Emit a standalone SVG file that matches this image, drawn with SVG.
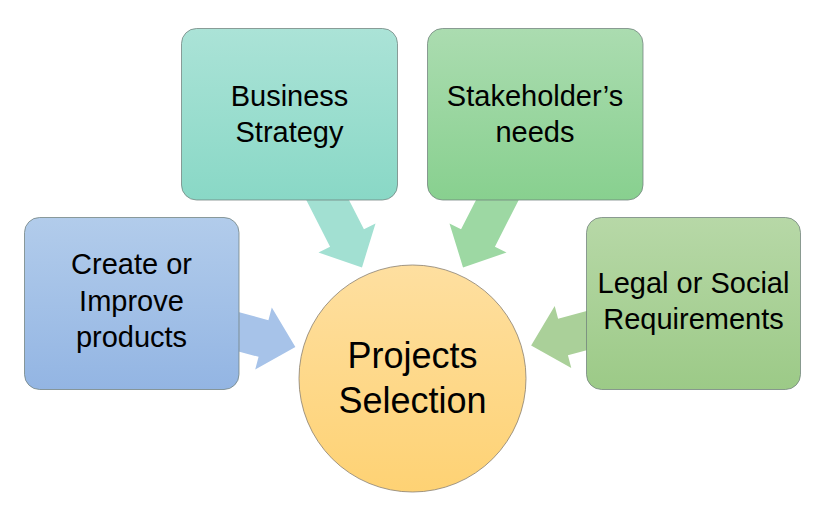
<svg xmlns="http://www.w3.org/2000/svg" width="833" height="508" viewBox="0 0 833 508">
  <defs>
    <linearGradient id="gTeal" x1="0" y1="0" x2="0" y2="1">
      <stop offset="0" stop-color="#abe3d7"/>
      <stop offset="1" stop-color="#89d8c6"/>
    </linearGradient>
    <linearGradient id="gGreen" x1="0" y1="0" x2="0" y2="1">
      <stop offset="0" stop-color="#abdcb0"/>
      <stop offset="1" stop-color="#88d08f"/>
    </linearGradient>
    <linearGradient id="gBlue" x1="0" y1="0" x2="0" y2="1">
      <stop offset="0" stop-color="#b2cceb"/>
      <stop offset="1" stop-color="#93b5e3"/>
    </linearGradient>
    <linearGradient id="gOlive" x1="0" y1="0" x2="0" y2="1">
      <stop offset="0" stop-color="#b7d8a7"/>
      <stop offset="1" stop-color="#9cca87"/>
    </linearGradient>
    <linearGradient id="gOrange" x1="0" y1="0" x2="0" y2="1">
      <stop offset="0" stop-color="#fedfa0"/>
      <stop offset="1" stop-color="#fed274"/>
    </linearGradient>
    <polygon id="arrow" points="-60,-19 0,-19 0,-32 33,0 0,32 0,19 -60,19"/>
  </defs>
  <style>
    .box { stroke: #6f7f7b; stroke-opacity: 0.75; stroke-width: 1; }
    .lbl { font-family: "Liberation Sans", Arial, sans-serif; font-size: 29px; fill: #000; text-anchor: middle; }
    .big { font-family: "Liberation Sans", Arial, sans-serif; font-size: 36px; fill: #000; text-anchor: middle; }
  </style>
  <rect width="833" height="508" fill="#ffffff"/>
  <g id="connectors">
    <use href="#arrow" fill="#a2e0d2" transform="translate(347,238) rotate(63)"/>
    <use href="#arrow" fill="#9dd8a3" transform="translate(478,238) rotate(117)"/>
    <use href="#arrow" fill="#a7c3e9" transform="translate(263.5,338.5) rotate(15)"/>
    <use href="#arrow" fill="#aad099" transform="translate(563,337) rotate(165)"/>
  </g>
  <g id="business-strategy">
    <rect class="box" x="181.5" y="28.5" width="216" height="171.5" rx="15" fill="url(#gTeal)"/>
    <text class="lbl" x="289.5" y="106">Business</text>
    <text class="lbl" x="289.5" y="141.5">Strategy</text>
  </g>
  <g id="stakeholders-needs">
    <rect class="box" x="427.5" y="28.5" width="215.5" height="171.5" rx="15" fill="url(#gGreen)"/>
    <text class="lbl" x="535" y="106">Stakeholder’s</text>
    <text class="lbl" x="535" y="141.5">needs</text>
  </g>
  <g id="create-improve">
    <rect class="box" x="24.5" y="217.5" width="214.5" height="172" rx="15" fill="url(#gBlue)"/>
    <text class="lbl" x="131.5" y="274">Create or</text>
    <text class="lbl" x="131.5" y="310.5">Improve</text>
    <text class="lbl" x="131.5" y="346.5">products</text>
  </g>
  <g id="legal-social">
    <rect class="box" x="586.5" y="217.5" width="214" height="172" rx="15" fill="url(#gOlive)"/>
    <text class="lbl" x="693.5" y="293">Legal or Social</text>
    <text class="lbl" x="693.5" y="329">Requirements</text>
  </g>
  <g id="projects-selection">
    <circle cx="412.5" cy="378.5" r="113.5" fill="url(#gOrange)" stroke="#8a8070" stroke-opacity="0.8" stroke-width="1"/>
    <text class="big" x="412.5" y="367.5">Projects</text>
    <text class="big" x="412.5" y="412.5">Selection</text>
  </g>
</svg>
